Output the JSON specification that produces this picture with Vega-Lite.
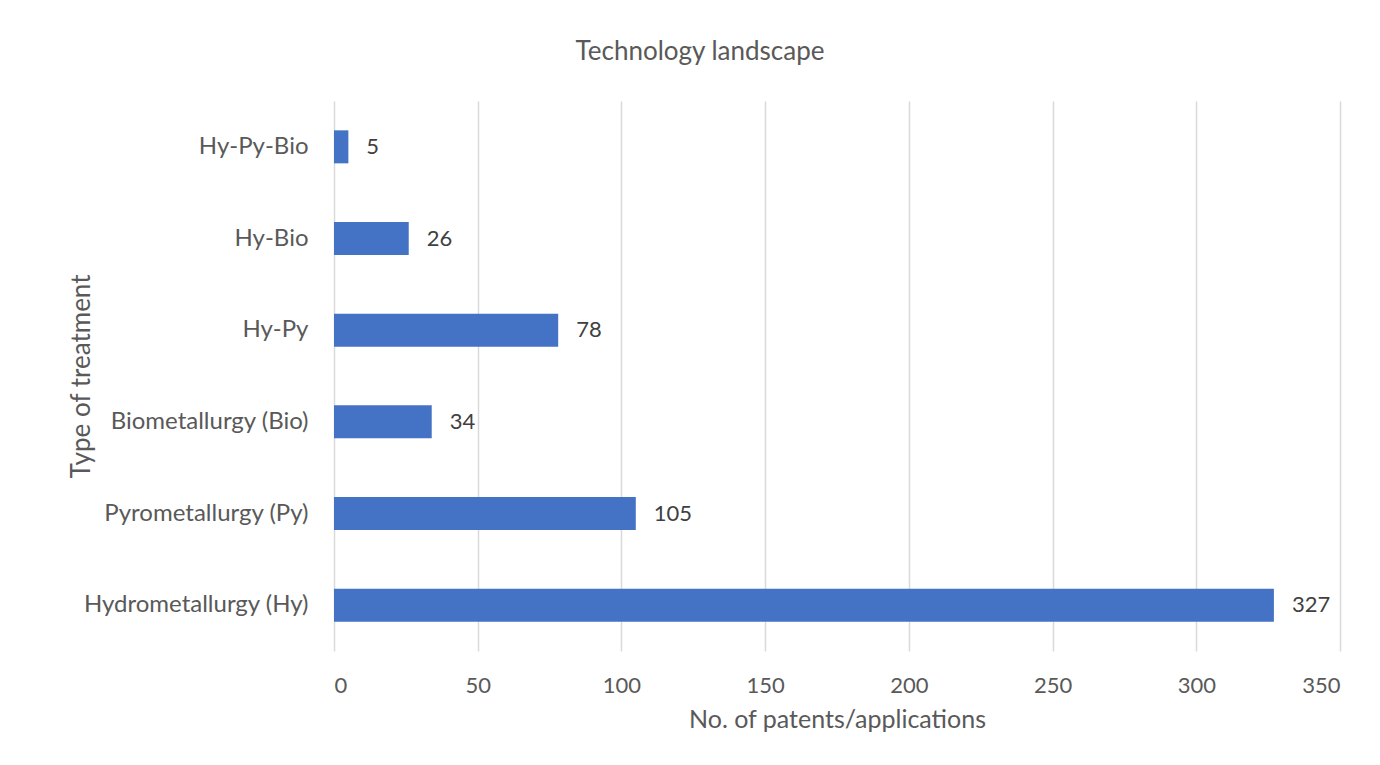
{
  "$schema": "https://vega.github.io/schema/vega-lite/v6.json",
  "width": 1006,
  "height": 550,
  "autosize": {"type": "none"},
  "padding": {"left": 334, "top": 101, "right": 40, "bottom": 114},
  "background": "white",
  "title": {"text": "Technology landscape", "anchor": "middle", "frame": "group", "dx": -137, "offset": 36, "fontSize": 26, "font": "Lato", "fontWeight": "normal", "color": "#595959"},
  "data": {"values": [
    {"type": "Hy-Py-Bio", "n": 5},
    {"type": "Hy-Bio", "n": 26},
    {"type": "Hy-Py", "n": 78},
    {"type": "Biometallurgy (Bio)", "n": 34},
    {"type": "Pyrometallurgy (Py)", "n": 105},
    {"type": "Hydrometallurgy (Hy)", "n": 327}
  ]},
  "encoding": {
    "y": {"field": "type", "type": "nominal", "sort": null,
      "scale": {"paddingInner": 0.64, "paddingOuter": 0.32},
      "axis": {"title": "Type of treatment", "titleFont": "Lato", "titleFontSize": 26, "titleFontWeight": "normal", "titleColor": "#595959", "titlePadding": 40,
        "labelFont": "Lato", "labelFontSize": 24, "labelColor": "#595959", "labelPadding": 26, "labelLimit": 320, "ticks": false, "domain": false, "grid": false}},
    "x": {"field": "n", "type": "quantitative",
      "scale": {"domain": [0, 350], "nice": false},
      "axis": {"title": "No. of patents/applications", "titleFont": "Lato", "titleFontSize": 25, "titleFontWeight": "normal", "titleColor": "#595959", "titlePadding": 11,
        "labelFont": "Lato", "labelFontSize": 22, "labelColor": "#595959", "labelPadding": 24, "values": [0, 50, 100, 150, 200, 250, 300, 350],
        "ticks": false, "domain": false, "grid": true, "gridColor": "#d9d9d9", "gridWidth": 1.5}}
  },
  "layer": [
    {"mark": {"type": "bar", "color": "#4472c4"}},
    {"mark": {"type": "text", "align": "left", "dx": 18, "font": "Lato", "fontSize": 22, "color": "#404040"},
     "encoding": {"text": {"field": "n", "type": "quantitative"}}}
  ],
  "config": {"view": {"stroke": null}}
}
